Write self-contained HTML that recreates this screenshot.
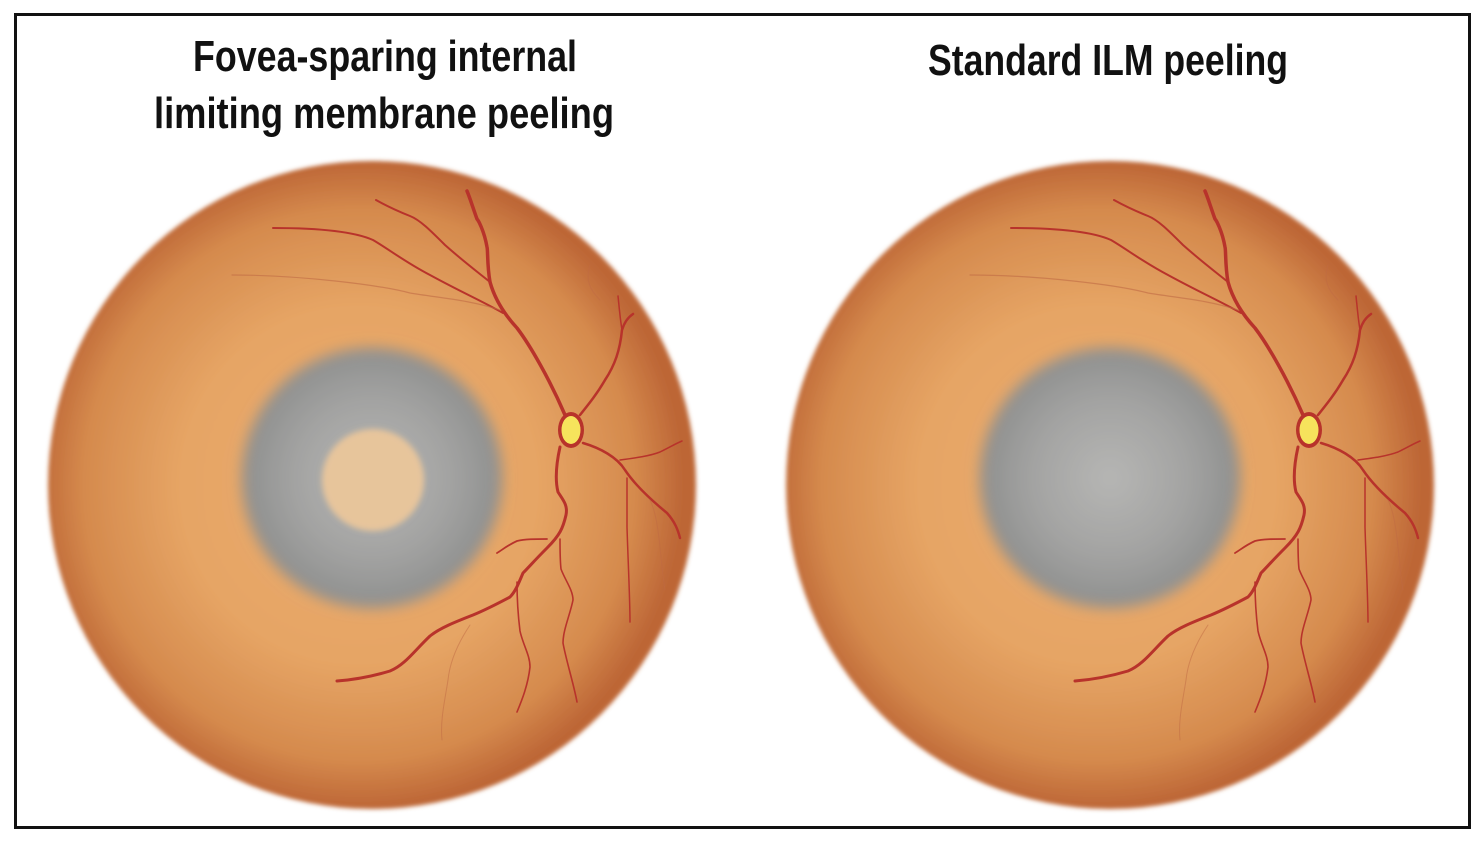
<!DOCTYPE html>
<html><head><style>
html,body{margin:0;padding:0;background:#fff;}
svg{display:block;}
text{font-family:"Liberation Sans Narrow","Liberation Sans",sans-serif;font-size:44px;font-weight:bold;fill:#111;}
</style></head><body>
<svg width="1484" height="844" viewBox="0 0 1484 844" xmlns="http://www.w3.org/2000/svg">
<defs>
<radialGradient id="eye" cx="0.48" cy="0.5" r="0.5">
<stop offset="0" stop-color="#e9aa6c"/>
<stop offset="0.55" stop-color="#e6a565"/>
<stop offset="0.85" stop-color="#d58a4d"/>
<stop offset="1" stop-color="#bd6636"/>
</radialGradient>
<radialGradient id="gray" cx="0.5" cy="0.5" r="0.5">
<stop offset="0" stop-color="#b6b6b4"/>
<stop offset="0.6" stop-color="#a3a3a2"/>
<stop offset="1" stop-color="#8e8f8e"/>
</radialGradient>
<filter id="b1" x="-10%" y="-10%" width="120%" height="120%"><feGaussianBlur stdDeviation="2"/></filter>
<filter id="b2" x="-20%" y="-20%" width="140%" height="140%"><feGaussianBlur stdDeviation="7"/></filter>
<filter id="b3" x="-20%" y="-20%" width="140%" height="140%"><feGaussianBlur stdDeviation="3"/></filter>
<g id="vessels" fill="none" stroke="#b8332b" stroke-linecap="round" stroke-linejoin="round">
<path d="M565 415 C550 380 530 345 517 328 C505 315 495 300 490 282 C487 265 488 250 487 247 C484 230 478 220 477 219 C472 205 470 198 467 191" stroke-width="3.5"/>
<path d="M503 313 C480 300 463 293 430 275 C405 262 390 250 373 240 C355 232 320 228 273 228" stroke-width="2"/>
<path d="M490 282 C475 270 463 261 445 245 C430 230 420 220 410 216 C395 210 385 205 376 200" stroke-width="2"/>
<path d="M500 310 C470 300 440 298 410 293 C380 285 300 275 232 275" stroke-width="1.2" stroke="#c06a44" opacity="0.6"/>
<path d="M580 415 C588 405 597 394 605 380 C615 365 620 350 622 330 C625 320 630 316 633 314" stroke-width="2.5"/>
<path d="M622 330 C620 318 619 305 618 296" stroke-width="1.5"/>
<path d="M583 443 C600 448 617 457 625 470 C635 485 650 499 667 513 C675 522 678 530 680 538" stroke-width="2.5"/>
<path d="M620 460 C635 458 650 456 660 452 C670 447 677 443 682 441" stroke-width="1.5"/>
<path d="M627 478 C627 495 627 510 627 527 C628 560 630 600 630 622" stroke-width="1.5"/>
<path d="M560 447 C556 465 555 480 558 492 C563 500 568 505 566 515 C563 528 560 535 547 548 C535 560 528 568 523 573 C518 585 515 592 510 597 C495 605 485 610 473 615 C455 622 440 628 430 636 C415 650 405 665 390 671 C370 677 350 680 337 681" stroke-width="3"/>
<path d="M547 539 C535 539 525 539 517 541 C508 545 502 550 497 553" stroke-width="1.8"/>
<path d="M560 539 C560 550 560 560 561 569 C565 580 573 590 573 600 C570 615 563 630 563 643 C566 660 574 685 577 702" stroke-width="1.6"/>
<path d="M517 582 C517 600 518 615 520 631 C523 645 530 655 530 667 C528 685 522 700 517 712" stroke-width="1.6"/>
<path d="M470 625 C460 640 450 660 448 680 C445 700 440 720 442 740" stroke-width="1" stroke="#c06a44" opacity="0.5"/>
<path d="M600 300 C590 290 585 280 590 265" stroke-width="1" stroke="#c06a44" opacity="0.5"/>
<path d="M650 500 C660 520 660 560 665 590" stroke-width="1" stroke="#c06a44" opacity="0.5"/>
</g>
</defs>
<rect x="15.5" y="14.5" width="1454" height="813" fill="#fff" stroke="#111" stroke-width="3"/>

<text x="385" y="71" text-anchor="middle" textLength="384" lengthAdjust="spacingAndGlyphs">Fovea-sparing internal</text>
<text x="384" y="128" text-anchor="middle" textLength="460" lengthAdjust="spacingAndGlyphs">limiting membrane peeling</text>
<text x="1108" y="75" text-anchor="middle" textLength="360" lengthAdjust="spacingAndGlyphs">Standard ILM peeling</text>

<circle cx="372" cy="485" r="324" fill="url(#eye)" filter="url(#b1)"/>
<circle cx="372" cy="478" r="130" fill="url(#gray)" filter="url(#b2)"/>
<circle cx="373" cy="480" r="51" fill="#e7c59b" filter="url(#b3)"/>
<use href="#vessels"/>
<ellipse cx="571" cy="430" rx="13" ry="18" fill="#b8332b"/>
<ellipse cx="571" cy="430" rx="9.5" ry="14" fill="#f6e35c"/>

<circle cx="1110" cy="485" r="324" fill="url(#eye)" filter="url(#b1)"/>
<circle cx="1110" cy="478" r="130" fill="url(#gray)" filter="url(#b2)"/>
<g transform="translate(738,0)"><use href="#vessels"/>
<ellipse cx="571" cy="430" rx="13" ry="18" fill="#b8332b"/>
<ellipse cx="571" cy="430" rx="9.5" ry="14" fill="#f6e35c"/></g>
</svg>
</body></html>
